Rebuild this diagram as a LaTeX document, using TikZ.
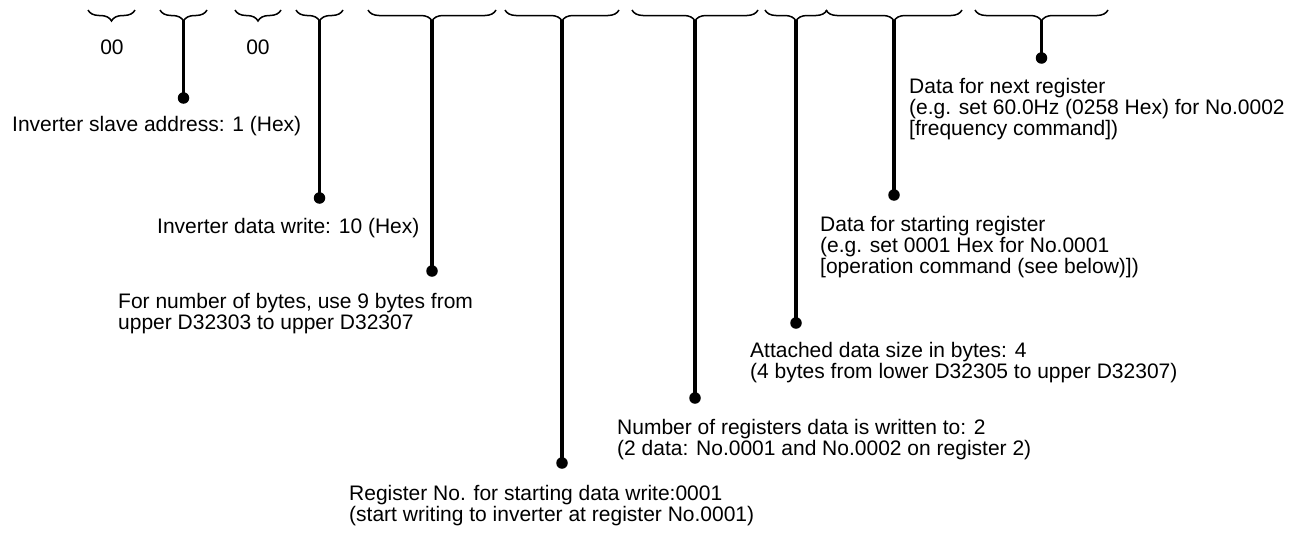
\documentclass[tikz,border=0pt]{standalone}
\usepackage{fontspec}
\setmainfont{Liberation Sans}
\usetikzlibrary{decorations.pathreplacing}
\begin{document}
\begin{tikzpicture}[x=1pt,y=-1pt,
  bracestyle/.style={decorate,decoration={brace,amplitude=11pt,aspect=0.5},line width=1.5pt},
  stemline/.style={line width=3.5pt},
  dotnode/.style={circle,fill=black,inner sep=0pt,minimum size=11.5pt},
  lbl/.style={anchor=base west,inner sep=0pt,align=left,font=\fontsize{21}{21}\selectfont},
  zero/.style={anchor=base,inner sep=0pt,font=\fontsize{21}{21}\selectfont}]
\useasboundingbox (0,0) rectangle (1302,533);
% braces (drawn right to left so that the tip points down)
\draw[bracestyle] (135,10) -- (88,10);
\draw[bracestyle] (207,10) -- (160,10);
\draw[bracestyle] (281,10) -- (235,10);
\draw[bracestyle] (343,10) -- (296,10);
\draw[bracestyle] (496,10) -- (368,10);
\draw[bracestyle] (619,10) -- (505,10);
\draw[bracestyle] (758,10) -- (632,10);
\draw[bracestyle] (827,10) -- (765,10);
\draw[bracestyle] (962,10) -- (826,10);
\draw[bracestyle] (1108,10) -- (975,10);
% brace tips
\coordinate (t2) at (183.5,20);
\coordinate (t4) at (319.5,20);
\coordinate (t5) at (432,20);
\coordinate (t6) at (562,20);
\coordinate (t7) at (695,20);
\coordinate (t8) at (796,20);
\coordinate (t9) at (894,20);
\coordinate (t10) at (1041.5,20);
% zero labels
\node[zero] (z1) at (112,54) {00};
\node[zero] (z3) at (258,54) {00};
% dots
\node[dotnode] (d2) at (183.5,98) {};
\node[dotnode] (d4) at (319.5,198) {};
\node[dotnode] (d5) at (432,271) {};
\node[dotnode] (d6) at (562,463) {};
\node[dotnode] (d7) at (695,398) {};
\node[dotnode] (d8) at (796,323) {};
\node[dotnode] (d9) at (894,195) {};
\node[dotnode] (d10) at (1041.5,58) {};
% stems
\draw[stemline] (t2) -- (d2.center);
\draw[stemline] (t4) -- (d4.center);
\draw[stemline] (t5) -- (d5.center);
\draw[stemline] (t6) -- (d6.center);
\draw[stemline] (t7) -- (d7.center);
\draw[stemline] (t8) -- (d8.center);
\draw[stemline] (t9) -- (d9.center);
\draw[stemline] (t10) -- (d10.center);
% labels (base anchor = baseline of the last line)
\node[lbl] (l2) at (12,131) {Inverter slave address: 1 (Hex)};
\node[lbl] (l4) at (157,233) {Inverter data write: 10 (Hex)};
\node[lbl] (l5) at (118,329) {For number of bytes, use 9 bytes from\\upper D32303 to upper D32307};
\node[lbl] (l6) at (349,521) {Register No. for starting data write:0001\\(start writing to inverter at register No.0001)};
\node[lbl] (l7) at (617,455) {Number of registers data is written to: 2\\(2 data: No.0001 and No.0002 on register 2)};
\node[lbl] (l8) at (750,378) {Attached data size in bytes: 4\\(4 bytes from lower D32305 to upper D32307)};
\node[lbl] (l9) at (820,273) {Data for starting register\\(e.g. set 0001 Hex for No.0001\\{[}operation command (see below){]})};
\node[lbl] (l10) at (909,135) {Data for next register\\(e.g. set 60.0Hz (0258 Hex) for No.0002\\{[}frequency command{]})};
\end{tikzpicture}
\end{document}
